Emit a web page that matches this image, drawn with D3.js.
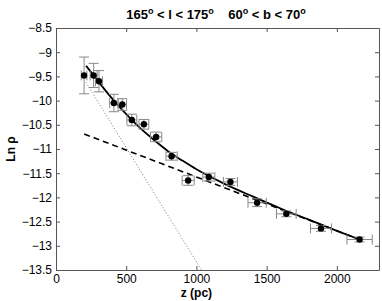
<!DOCTYPE html>
<html>
<head>
<meta charset="utf-8">
<script src="https://cdn.jsdelivr.net/npm/d3@7"></script>
<style>
  body { margin: 0; background: #fff; }
  text { font-family: "Liberation Sans", Arial, sans-serif; }
</style>
</head>
<body>
<div id="chart"></div>
<script>
"use strict";

// measured points: height z (pc), ln density, and their errors
const zVals   = [200, 268, 306, 412, 472, 540, 626, 713, 823, 941, 1088, 1242, 1432, 1640, 1887, 2162];
const lnRho   = [-9.48, -9.48, -9.60, -10.05, -10.08, -10.40, -10.49, -10.75, -11.15, -11.65, -11.58, -11.68, -12.11, -12.34, -12.64, -12.87];
const zErr    = [20, 25, 25, 30, 30, 35, 35, 40, 40, 43, 43, 50, 65, 70, 75, 90];
const lnErr   = [0.38, 0.25, 0.22, 0.18, 0.12, 0.12, 0.10, 0.10, 0.08, 0.10, 0.08, 0.07, 0.08, 0.06, 0.06, 0.05];

// fit curves
const fitZ    = [214, 300, 400, 500, 600, 700, 800, 900, 1000, 1200, 1400, 1600, 1800, 2000, 2162];
const fitLn   = [-9.28, -9.60, -9.96, -10.28, -10.57, -10.82, -11.05, -11.24, -11.42, -11.72, -11.98, -12.23, -12.46, -12.69, -12.87];
const thickZ  = [201, 2162];
const thickLn = [-10.69, -12.87];
const thinZ   = [213, 1036];
const thinLn  = [-9.62, -13.5];

const xTicks = [0, 500, 1000, 1500, 2000];
const yTicks = [-8.5, -9, -9.5, -10, -10.5, -11, -11.5, -12, -12.5, -13, -13.5];

const W = 382, H = 301
    , margin = { left: 56, right: 3, top: 28, bottom: 31 }
    , innerW = W - margin.left - margin.right
    , innerH = H - margin.top - margin.bottom

const svg = d3.select('#chart').append('svg')
  .attr('width', W)
  .attr('height', H)

const g = svg.append('g')
  .attr('transform', `translate(${margin.left},${margin.top})`)

const x = d3.scaleLinear().domain([0, 2300]).range([0, innerW])
const y = d3.scaleLinear().domain([-13.5, -8.5]).range([innerH, 0])

const fmt = d => d3.format('')(d).replace('-', '\u2212')

/*
 * axes, matlab style: box with inward ticks on every side
 ***/
const axisColor = '#555'
const tickLen = 4

g.append('g')
  .attr('transform', `translate(0,${innerH})`)
  .call(d3.axisBottom(x).tickValues(xTicks).tickSizeInner(-tickLen).tickSizeOuter(0).tickPadding(4).tickFormat(fmt))
g.append('g')
  .call(d3.axisTop(x).tickValues(xTicks).tickSizeInner(-tickLen).tickSizeOuter(0).tickFormat(''))
g.append('g')
  .call(d3.axisLeft(y).tickValues(yTicks).tickSizeInner(-tickLen).tickSizeOuter(0).tickPadding(4).tickFormat(fmt))
g.append('g')
  .attr('transform', `translate(${innerW},0)`)
  .call(d3.axisRight(y).tickValues(yTicks).tickSizeInner(-tickLen).tickSizeOuter(0).tickFormat(''))

g.selectAll('.domain').attr('stroke', axisColor)
g.selectAll('.tick line').attr('stroke', axisColor)
g.selectAll('.tick text').attr('fill', '#000').style('font-size', '12px')

/*
 * model curves
 ***/
const line = d3.line().x(d => x(d[0])).y(d => y(d[1]))
const zip = (a, b) => a.map((v, i) => [v, b[i]])

g.append('path')
  .datum(zip(thinZ, thinLn))
  .attr('d', line)
  .attr('fill', 'none')
  .attr('stroke', '#777')
  .attr('stroke-width', 1)
  .attr('stroke-dasharray', '1,2')

g.append('path')
  .datum(zip(thickZ, thickLn))
  .attr('d', line)
  .attr('fill', 'none')
  .attr('stroke', '#000')
  .attr('stroke-width', 1.6)
  .attr('stroke-dasharray', '6,4')

g.append('path')
  .datum(zip(fitZ, fitLn))
  .attr('d', d3.line().curve(d3.curveMonotoneX).x(d => x(d[0])).y(d => y(d[1])))
  .attr('fill', 'none')
  .attr('stroke', '#000')
  .attr('stroke-width', 1.8)

/*
 * error bars and points
 ***/
const pts = zVals.map((z, i) => ({ z, v: lnRho[i], ze: zErr[i], ve: lnErr[i] }))
const CAP = 5
const errColor = '#888'

const eb = g.append('g').attr('stroke', errColor).attr('stroke-width', 1).attr('fill', 'none')

pts.forEach(p => {
  const cx = x(p.z), cy = y(p.v)
  const y0 = y(p.v - p.ve), y1 = y(p.v + p.ve)
  const x0 = x(p.z - p.ze), x1 = x(p.z + p.ze)
  eb.append('path').attr('d',
    `M${cx},${y0}V${y1}M${cx - CAP},${y0}H${cx + CAP}M${cx - CAP},${y1}H${cx + CAP}` +
    `M${x0},${cy}H${x1}M${x0},${cy - CAP}V${cy + CAP}M${x1},${cy - CAP}V${cy + CAP}`)
})

g.selectAll('circle.pt')
  .data(pts)
  .enter()
  .append('circle')
  .attr('class', 'pt')
  .attr('cx', d => x(d.z))
  .attr('cy', d => y(d.v))
  .attr('r', 3.2)
  .attr('fill', '#000')

/*
 * labels
 ***/
const title = svg.append('text')
  .attr('x', 216)
  .attr('y', 19)
  .attr('text-anchor', 'middle')
  .attr('xml:space', 'preserve')
  .style('font-size', '13px')
  .style('font-weight', 'bold')

const titleParts = ['165', 'o', ' < l < 175', 'o', '    60', 'o', ' < b < 70', 'o']
let raised = false
titleParts.forEach(t => {
  const sup = t === 'o'
  const dy = sup ? -5 : (raised ? 5 : 0)
  raised = sup
  title.append('tspan')
    .attr('dy', dy)
    .style('font-size', sup ? '9px' : '13px')
    .text(t)
})

svg.append('text')
  .attr('x', margin.left + x(1000))
  .attr('y', 297)
  .attr('text-anchor', 'middle')
  .style('font-size', '12px')
  .style('font-weight', 'bold')
  .text('z (pc)')

svg.append('text')
  .attr('transform', 'translate(15,149) rotate(-90)')
  .attr('text-anchor', 'middle')
  .style('font-size', '12px')
  .style('font-weight', 'bold')
  .text('Ln \u03c1')
</script>
</body>
</html>
